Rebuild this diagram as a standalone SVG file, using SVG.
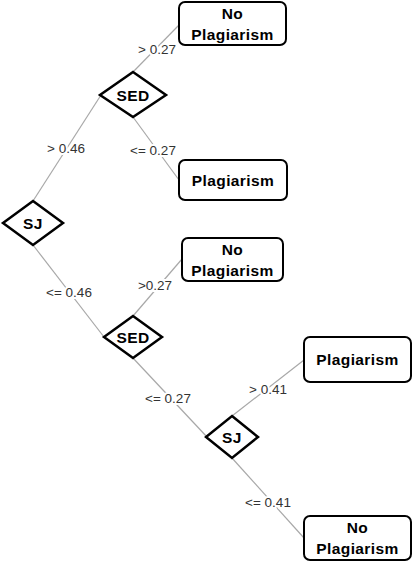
<svg xmlns="http://www.w3.org/2000/svg" width="412" height="562" viewBox="0 0 412 562">
<style>
.box{fill:#fff;stroke:#000;stroke-width:2}
.dia{fill:#fff;stroke:#000;stroke-width:2.5;stroke-linejoin:miter}
.nt{font-family:"Liberation Sans",Arial,sans-serif;font-weight:bold;font-size:15.5px;fill:#000;text-anchor:middle;letter-spacing:0.4px}
.edge{stroke:#a8a8a8;stroke-width:1.2;fill:none}
.el{font-family:"Liberation Sans",Arial,sans-serif;font-size:13.5px;fill:#333;stroke:#fff;stroke-width:4;paint-order:stroke;text-anchor:middle}
</style>
<rect width="412" height="562" fill="#fff"/>
<g id="connectors">
<line class="edge" x1="133" y1="72" x2="179" y2="25"/>
<line class="edge" x1="133" y1="117" x2="179" y2="180"/>
<line class="edge" x1="33" y1="201" x2="101" y2="95"/>
<line class="edge" x1="33" y1="245" x2="104" y2="337"/>
<line class="edge" x1="133" y1="316" x2="182" y2="259"/>
<line class="edge" x1="133" y1="358" x2="207" y2="437"/>
<line class="edge" x1="232" y1="416" x2="304" y2="360"/>
<line class="edge" x1="232" y1="458" x2="304" y2="538"/>
<text class="el" x="157" y="54">&gt; 0.27</text>
<text class="el" x="153" y="155">&lt;= 0.27</text>
<text class="el" x="66" y="153">&gt; 0.46</text>
<text class="el" x="69" y="297">&lt;= 0.46</text>
<text class="el" x="155" y="290">&gt;0.27</text>
<text class="el" x="168" y="403">&lt;= 0.27</text>
<text class="el" x="268" y="394">&gt; 0.41</text>
<text class="el" x="268" y="507">&lt;= 0.41</text>
</g>
<g id="n_sj1">
<polygon class="dia" points="33,201 63,223 33,245 3,223"/>
<text class="nt" x="33" y="228.5">SJ</text>
</g>
<g id="n_sed1">
<polygon class="dia" points="133,72 166,95 133,117 100,95"/>
<text class="nt" x="133" y="100.5">SED</text>
</g>
<g id="n_sed2">
<polygon class="dia" points="133,316 162,337 133,358 104,337"/>
<text class="nt" x="133" y="342.5">SED</text>
</g>
<g id="n_sj2">
<polygon class="dia" points="232,416 258,437 232,458 206,437"/>
<text class="nt" x="232" y="442.5">SJ</text>
</g>
<g id="n_leaf1">
<rect class="box" x="179" y="2" width="107" height="43" rx="6"/>
<text class="nt" x="232.5" y="19">No</text>
<text class="nt" x="232.5" y="40">Plagiarism</text>
</g>
<g id="n_leaf2">
<rect class="box" x="179" y="160" width="108" height="40" rx="6"/>
<text class="nt" x="233" y="186">Plagiarism</text>
</g>
<g id="n_leaf3">
<rect class="box" x="182" y="238" width="101" height="43" rx="6"/>
<text class="nt" x="232.5" y="255">No</text>
<text class="nt" x="232.5" y="276">Plagiarism</text>
</g>
<g id="n_leaf4">
<rect class="box" x="304" y="337" width="107" height="45" rx="6"/>
<text class="nt" x="357.5" y="365">Plagiarism</text>
</g>
<g id="n_leaf5">
<rect class="box" x="304" y="516" width="107" height="44" rx="6"/>
<text class="nt" x="357.5" y="533">No</text>
<text class="nt" x="357.5" y="554">Plagiarism</text>
</g>
</svg>
